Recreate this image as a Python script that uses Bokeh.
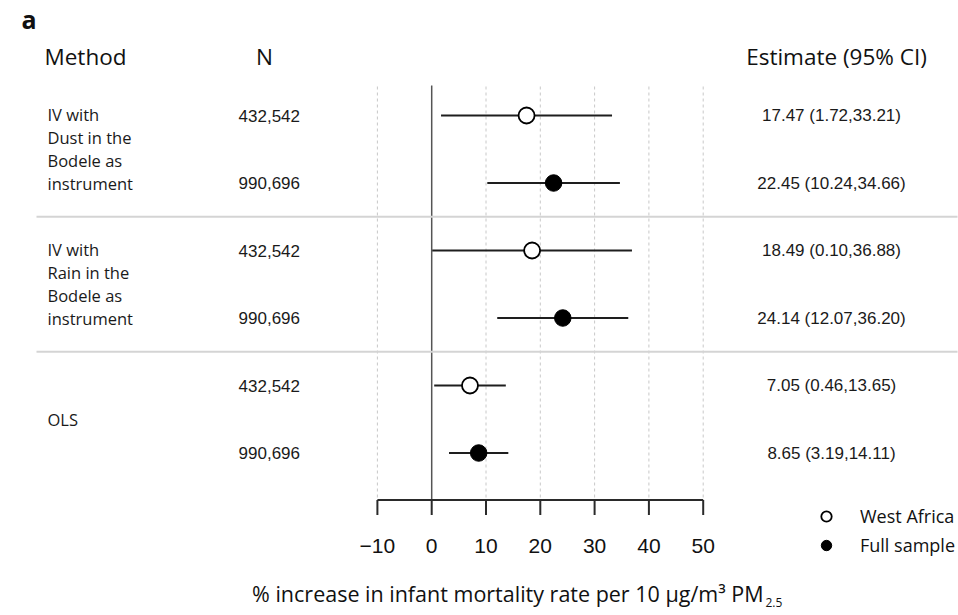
import numpy as np
from bokeh.plotting import figure
from bokeh.models import Range1d, ColumnDataSource, Legend, LegendItem
from bokeh.core.properties import value
from bokeh.embed import file_html
from bokeh.resources import INLINE

# ---------------- data ----------------
panel_tag = "a"
headers = ["Method", "N", "Estimate (95% CI)"]
methods = ["IV with\nDust in the\nBodele as\ninstrument",
           "IV with\nRain in the\nBodele as\ninstrument",
           "OLS"]
samples = ["West Africa", "Full sample"]
sample_n = ["432,542", "990,696"]
estimate = [17.47, 22.45, 18.49, 24.14, 7.05, 8.65]
ci_low = [1.72, 10.24, 0.10, 12.07, 0.46, 3.19]
ci_high = [33.21, 34.66, 36.88, 36.20, 13.65, 14.11]
x_ticks = [-10, 0, 10, 20, 30, 40, 50]
x_tick_labels = ["\u221210", "0", "10", "20", "30", "40", "50"]
x_label = "% increase in infant mortality rate per 10 \u03bcg/m\u00b3 PM"
x_label_sub = "2.5"

# ---------------- layout constants ----------------
W, H = 958, 615
AXIS_Y = 499.5          # pixel row of the x axis line
X0_PX, PX_PER = 431.2, 5.43
ROW0_PX, ROW_STEP = 115.0, 67.5
SANS = "Open Sans"
HELV = "Liberation Sans"
INK = "#111111"

n_groups, n_samp = len(methods), len(samples)
rows = np.arange(n_groups * n_samp)
samp_idx = rows % n_samp

src = ColumnDataSource(dict(
    row=rows,
    est=estimate,
    lo=ci_low,
    hi=ci_high,
    n=[sample_n[i] for i in samp_idx],
    est_txt=[f"{e:.2f} ({l:.2f},{h:.2f})" for e, l, h in zip(estimate, ci_low, ci_high)],
))
est_arr = np.array(estimate)
src_wa = ColumnDataSource(dict(row=rows[samp_idx == 0], est=est_arr[samp_idx == 0]))
src_full = ColumnDataSource(dict(row=rows[samp_idx == 1], est=est_arr[samp_idx == 1]))

p = figure(width=W, height=H,
           x_range=Range1d(-X0_PX / PX_PER, (W - X0_PX) / PX_PER),
           y_range=Range1d((H - ROW0_PX) / ROW_STEP, -ROW0_PX / ROW_STEP),
           output_backend="svg", toolbar_location=None,
           x_axis_location=None, y_axis_location=None,
           min_border_left=0, min_border_right=0, min_border_top=0,
           min_border_bottom=0)
p.extra_x_ranges = {"px": Range1d(0, W)}
p.extra_y_ranges = {"px": Range1d(H, 0)}
p.outline_line_color = None
p.grid.visible = False
p.background_fill_color = "white"
p.border_fill_color = "white"

# dashed grid lines (every tick except the zero line)
grid_x = [t for t in x_ticks if t != 0]
p.segment(x0=grid_x, x1=grid_x, y0=[86] * len(grid_x), y1=[AXIS_Y] * len(grid_x),
          y_range_name="px", line_color="#c8c8c8", line_width=1, line_dash="3 3")
# zero line
p.segment(x0=[0], x1=[0], y0=[85], y1=[AXIS_Y], y_range_name="px",
          line_color="#555555", line_width=1.5)

# group separators
sep_rows = [g * n_samp - 0.5 for g in range(1, n_groups)]
p.segment(x0=[36] * len(sep_rows), x1=[957] * len(sep_rows), y0=sep_rows, y1=sep_rows,
          x_range_name="px", line_color="#d4d4d4", line_width=2)

# confidence intervals and point estimates
p.segment(x0="lo", x1="hi", y0="row", y1="row", source=src,
          line_color="#1e1e1e", line_width=2)
r_wa = p.scatter(x="est", y="row", source=src_wa, marker="circle", size=16,
                 fill_color="white", line_color="black", line_width=1.8)
r_full = p.scatter(x="est", y="row", source=src_full, marker="circle", size=16.5,
                   fill_color="black", line_color="black", line_width=1)

# x axis (drawn from the tick list)
p.segment(x0=[min(x_ticks)], x1=[max(x_ticks)], y0=[AXIS_Y], y1=[AXIS_Y],
          y_range_name="px", line_color="#2a2a2a", line_width=2)
p.segment(x0=x_ticks, x1=x_ticks, y0=[AXIS_Y] * len(x_ticks),
          y1=[AXIS_Y + 15] * len(x_ticks), y_range_name="px",
          line_color="#2a2a2a", line_width=2)
p.text(x=x_ticks, y=[545] * len(x_ticks), text=x_tick_labels, y_range_name="px",
       text_font=value(HELV), text_font_size="21px", text_align="center",
       text_baseline="middle", text_color=INK)

# axis title with subscript
p.text(x=[763], y=[593], text=[x_label], x_range_name="px", y_range_name="px",
       text_font=value(SANS), text_font_size="21.5px", text_align="right",
       text_baseline="middle", text_color=INK)
p.text(x=[765], y=[602], text=[x_label_sub], x_range_name="px", y_range_name="px",
       text_font=value(SANS), text_font_size="12px", text_align="left",
       text_baseline="middle", text_color=INK)

# table text
p.text(x=[47] * n_groups, y=[g * n_samp + (n_samp - 1) / 2 for g in range(n_groups)],
       text=methods, x_range_name="px", text_font=value(SANS),
       text_font_size="16.5px", text_line_height=1.0, text_align="left",
       text_baseline="middle", text_color="#1a1a1a")
p.text(x=299.5, y="row", text="n", source=src, x_range_name="px",
       text_font=value(HELV), text_font_size="17px", text_align="right",
       text_baseline="middle", text_color="#1a1a1a")
p.text(x=831, y="row", text="est_txt", source=src, x_range_name="px",
       text_font=value(HELV), text_font_size="17px", text_align="center",
       text_baseline="middle", text_color="#1a1a1a")
p.text(x=[44, 264, 836], y=[56, 56, 56], text=headers, x_range_name="px",
       y_range_name="px", text_font=value(SANS), text_font_size="22.5px",
       text_align=["left", "center", "center"], text_baseline="middle",
       text_color=INK)
p.text(x=[21], y=[18], text=[panel_tag], x_range_name="px", y_range_name="px",
       text_font=value(SANS), text_font_size="25px", text_font_style="bold",
       text_align="left", text_baseline="middle", text_color=INK)

# legend
legend = Legend(items=[LegendItem(label=samples[0], renderers=[r_wa]),
                       LegendItem(label=samples[1], renderers=[r_full])],
                location=(813, H - 558), glyph_width=26, glyph_height=26,
                label_height=26, spacing=3, padding=0, margin=0,
                label_standoff=21, label_text_font=SANS,
                label_text_font_size="18px", label_text_color=INK,
                border_line_color=None, background_fill_alpha=0)
p.add_layout(legend, "center")

open("out.html", "w").write(file_html(p, INLINE))
